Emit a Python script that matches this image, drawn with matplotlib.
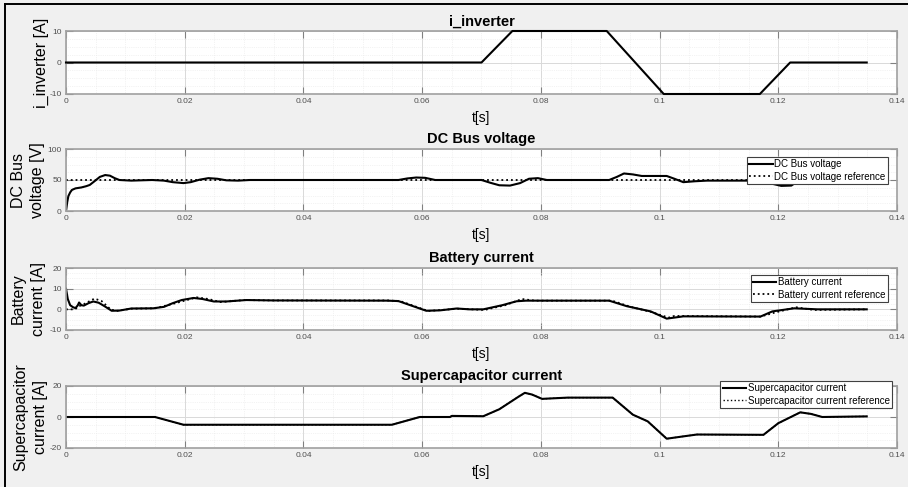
import numpy as np
import matplotlib
matplotlib.use('Agg')
import matplotlib.pyplot as plt
from matplotlib.ticker import MultipleLocator, AutoMinorLocator
from matplotlib.lines import Line2D

plt.rcParams['font.family'] = ['Liberation Sans', 'DejaVu Sans']
plt.rcParams['axes.unicode_minus'] = False

# i_inverter [A]
t_inv = [0, 0.070, 0.0752, 0.0911, 0.1007, 0.1169, 0.1220, 0.1349]
i_inv = [0, 0, 10, 10, -10, -10, 0, 0]

# DC bus voltage [V]
t_dc = [0, 0.0002, 0.0004, 0.0007, 0.001, 0.0016, 0.0026, 0.0034, 0.004, 0.0048, 0.0057,
        0.0066, 0.0074, 0.0082, 0.009, 0.011, 0.0145, 0.0165, 0.018, 0.0198, 0.021, 0.0225,
        0.024, 0.0255, 0.027, 0.029, 0.031, 0.056, 0.0575, 0.059, 0.0605, 0.0622, 0.07,
        0.0715, 0.073, 0.0748, 0.0765, 0.078, 0.0795, 0.081, 0.0915, 0.0928, 0.094, 0.0955,
        0.097, 0.1012, 0.1025, 0.104, 0.106, 0.108, 0.117, 0.1185, 0.1205, 0.1222, 0.1235,
        0.135]
v_dc = [0, 14, 24, 30, 34, 36.5, 38, 40, 42, 48, 55,
        58, 57, 53, 50, 49, 50, 49, 46.5, 45, 46.5, 50.5,
        53, 52, 49.5, 49, 50, 50, 52.5, 54, 53.5, 50, 50,
        45.5, 41.5, 41, 45, 52, 53, 50, 50, 55, 60.5, 59,
        56.5, 56.5, 52, 46.5, 48, 49, 49, 45, 40.5, 41, 49.5,
        50]
t_dc_ref = [0, 0.135]
v_dc_ref = [50, 50]

# Battery current [A]
t_bat = [0, 0.0003, 0.0007, 0.0012, 0.0016, 0.002, 0.0022, 0.0026, 0.003, 0.0038, 0.0046,
         0.0055, 0.0065, 0.0077, 0.009, 0.011, 0.0147, 0.0165, 0.018, 0.0195, 0.0215, 0.023,
         0.0249, 0.027, 0.0304, 0.035, 0.054, 0.056, 0.058, 0.0607, 0.063, 0.0658, 0.068,
         0.0703, 0.0735, 0.0759, 0.0775, 0.0915, 0.0945, 0.0985, 0.1012, 0.104, 0.117,
         0.119, 0.1227, 0.1266, 0.1349]
i_bat = [10, 5, 2, 1, 0.6, 2, 3.3, 2, 1.8, 3, 3.8,
         3.2, 1.5, -0.7, -0.6, 0.4, 0.5, 1.2, 3, 4.5, 5.5, 5,
         3.8, 3.8, 4.5, 4.3, 4.2, 4, 2, -0.7, -0.5, 0.4, 0,
         0, 2, 3.9, 4.2, 4.2, 1.5, -1, -4.5, -3.4, -3.5,
         -1, 0.5, 0, 0]
t_bat_ref = [0, 0.0015, 0.0022, 0.003, 0.0048, 0.006, 0.0075, 0.0085, 0.011, 0.015, 0.0185,
             0.022, 0.024, 0.026, 0.03, 0.035, 0.0545, 0.0565, 0.061, 0.066, 0.0705, 0.074,
             0.0768, 0.079, 0.092, 0.095, 0.0985, 0.1015, 0.1025, 0.117, 0.1195, 0.123,
             0.126, 0.135]
i_bat_ref = [0, 0, 1.5, 2.5, 5.2, 4, 0, -0.8, 0.3, 0.5, 3,
             5.8, 5, 3.5, 4.5, 4.3, 4.3, 3.8, -0.8, 0.3, -0.3, 2,
             5, 4.2, 4.2, 1.3, -1.2, -4, -3.2, -3.5, -1.5, 1,
             -0.3, 0]

# Supercapacitor current [A]
t_sc = [0, 0.015, 0.0198, 0.0549, 0.0596, 0.0647, 0.065, 0.0703, 0.073, 0.0762, 0.0773,
        0.0785, 0.0802, 0.0845, 0.0921, 0.0955, 0.098, 0.1012, 0.104, 0.1063, 0.1175,
        0.120, 0.1237, 0.1255, 0.1274, 0.1349]
i_sc = [0, 0, -5, -5, 0, 0, 0.7, 0.5, 5, 13, 15.6,
        14.5, 11.7, 12.5, 12.5, 1.5, -2.8, -14, -12.5, -11.3, -11.5,
        -4, 3, 2, 0, 0.4]
i_sc_ref = i_sc

W, H = 908, 487
fig = plt.figure(figsize=(W / 100, H / 100), dpi=100)
fig.patch.set_facecolor('#f0f0f0')

left, right = 66, 897
panels = [(31, 94), (149, 211), (268, 330), (386, 448)]
axes = []
for top, bot in panels:
    ax = fig.add_axes([left / W, 1 - bot / H, (right - left) / W, (bot - top) / H])
    axes.append(ax)

titles = ['i_inverter', 'DC Bus voltage', 'Battery current', 'Supercapacitor current']
ylabels = ['i_inverter [A]', 'DC Bus\nvoltage [V]', 'Battery\ncurrent [A]', 'Supercapacitor\ncurrent [A]']
ylims = [(-10, 10), (0, 100), (-10, 20), (-20, 20)]
ysteps = [10, 50, 10, 20]
ylab_x = [-0.029, -0.0457, -0.045, -0.0427]

for k, ax in enumerate(axes):
    ax.set_facecolor('white')
    ax.set_xlim(0, 0.14)
    ax.set_ylim(*ylims[k])
    ax.xaxis.set_minor_locator(MultipleLocator(0.005))
    ax.yaxis.set_major_locator(MultipleLocator(ysteps[k]))
    ax.yaxis.set_minor_locator(AutoMinorLocator(4))
    ax.set_xticks(np.arange(0, 0.141, 0.02))
    ax.set_xticklabels(['0', '0.02', '0.04', '0.06', '0.08', '0.1', '0.12', '0.14'])
    ax.grid(which='major', color='#d9d9d9', lw=0.7, ls='-')
    ax.grid(which='minor', color='#e8e8e8', lw=0.5, ls=':')
    ax.set_axisbelow(True)
    ax.tick_params(which='major', direction='in', length=5, width=0.8, color='#808080',
                   top=True, right=True, labelsize=6, labelcolor='#505050', pad=3)
    ax.tick_params(which='minor', length=0)
    for s in ax.spines.values():
        s.set_color('#a0a0a0')
        s.set_linewidth(1.2)
    ax.set_title(titles[k], fontsize=10.5, fontweight='bold', pad=4)
    ax.set_ylabel(ylabels[k], fontsize=11.5, linespacing=1.4)
    ax.yaxis.label.set_va('center')
    ax.yaxis.set_label_coords(ylab_x[k], 0.5)
    ax.set_xlabel('t[s]', fontsize=10)
    ax.xaxis.set_label_coords(0.5, -0.38)
    ax.xaxis.label.set_va('center')

axes[0].plot(t_inv, i_inv, color='black', lw=1.5, clip_on=False, zorder=4)

axes[1].plot(t_dc, v_dc, color='black', lw=1.5, label='DC Bus voltage')
axes[1].plot(t_dc_ref, v_dc_ref, color='black', lw=1.3, ls=':', label='DC Bus voltage reference')

axes[2].plot(t_bat, i_bat, color='black', lw=1.5, label='Battery current')
axes[2].plot(t_bat_ref, i_bat_ref, color='black', lw=1.3, ls=':', label='Battery current reference')

axes[3].plot(t_sc, i_sc, color='black', lw=1.5, label='Supercapacitor current')
axes[3].plot(t_sc, i_sc_ref, color='black', lw=1.0, ls=':', label='Supercapacitor current reference')

leg_pos = [None, (0.989, 0.871), (0.989, 0.887), (0.994, 1.08)]
for k in (1, 2, 3):
    leg = axes[k].legend(loc='upper right', bbox_to_anchor=leg_pos[k], fontsize=7,
                         frameon=True, fancybox=False, framealpha=1, borderpad=0.25,
                         labelspacing=0.25, handlelength=2.4, handletextpad=0.15,
                         borderaxespad=0)
    leg.get_frame().set_edgecolor('#404040')
    leg.get_frame().set_linewidth(0.8)

# outer frame (left and top edges)
fig.add_artist(Line2D([5 / W, 5 / W], [0, 1 - 4 / H], transform=fig.transFigure, color='black', lw=1.4))
fig.add_artist(Line2D([5 / W, 1], [1 - 4 / H, 1 - 4 / H], transform=fig.transFigure, color='black', lw=1.4))

plt.savefig('out.png', dpi=100, facecolor=fig.get_facecolor())
